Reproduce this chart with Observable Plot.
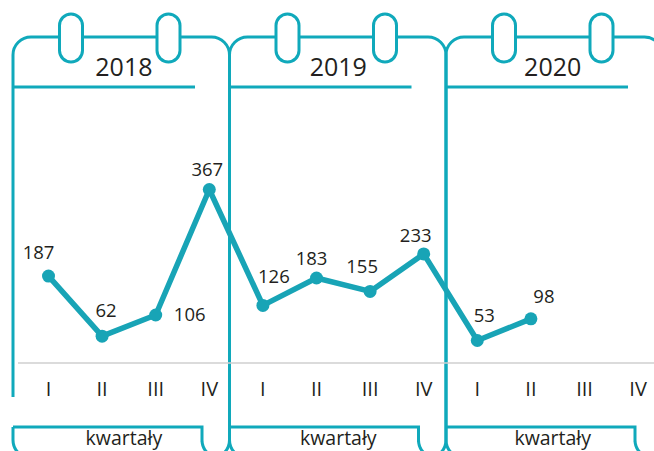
<!DOCTYPE html>
<html>
<head>
<meta charset="utf-8">
<script src="https://cdn.jsdelivr.net/npm/d3@7"></script>
<script src="https://cdn.jsdelivr.net/npm/@observablehq/plot@0.6"></script>
<style>
  html, body { margin: 0; padding: 0; background: #fff; }
  #chart svg { display: block; }
</style>
</head>
<body>
<div id="chart"></div>
<script>
// ---- data ----
const years = ["2018", "2019", "2020"];
const quarters = ["I", "II", "III", "IV"];
const values = [187, 62, 106, 367, 126, 183, 155, 233, 53, 98];
const axisLabel = "kwartały";

// ---- layout ----
const W = 654, H = 451;
const teal = "#10a9bb";
const lineColor = "#18a4b6";
const ink = "#231f20";
const font = "'Open Sans', sans-serif";

const data = values.map((v, i) => ({ i, value: v, label: String(v) }));
const yearData = years.map((y, j) => ({ year: y, c: j * 4 + 1.5 }));
const labelOffsets = [[-10,-23],[4,-25],[34,0],[-2,-19],[11,-28],[-5,-19],[-8,-24],[-8,-18],[7,-24],[13,-22]];

const nQ = years.length * quarters.length;

const chart = Plot.plot({
  width: W,
  height: H,
  marginLeft: 18,
  marginRight: 0,
  marginTop: 0,
  marginBottom: 76,
  style: { fontFamily: font, background: "transparent", color: ink },
  x: { type: "linear", domain: [0, nQ - 1], range: [48, 637.6] },
  y: { domain: [0, 400], range: [365.5, 365.5 - 0.481 * 400] },
  marks: [
    Plot.ruleY([0], { stroke: "#cfcfcf", strokeWidth: 1.5, dy: -3 }),
    Plot.axisX(d3.range(nQ), {
      tickFormat: i => quarters[i % quarters.length],
      tickSize: 0, tickPadding: 6, fontSize: 20, color: ink, label: null
    }),
    Plot.axisY({ ticks: [], label: null, tickSize: 0 }),
    Plot.line(data, { x: "i", y: "value", stroke: lineColor, strokeWidth: 5.5, strokeLinejoin: "round", strokeLinecap: "round" }),
    Plot.dot(data, { x: "i", y: "value", r: 6.5, fill: lineColor, stroke: null }),
    ...data.map((d, k) => Plot.text([d], {
      x: "i", y: "value", text: "label",
      dx: labelOffsets[k][0], dy: labelOffsets[k][1],
      fontSize: 18.5, fill: ink
    })),
    Plot.text(yearData, { x: "c", frameAnchor: "top", dy: 67, dx: -5, text: "year", fontSize: 25, fill: ink, lineAnchor: "middle" }),
    Plot.text(yearData, { x: "c", frameAnchor: "top", dy: 438, dx: -5, text: () => axisLabel, fontSize: 19.5, fill: ink, lineAnchor: "middle" })
  ]
});

// ---- decorative calendar frames ----
const svg = d3.select(chart);
const g = svg.insert("g", ":first-child")
  .attr("fill", "none").attr("stroke", teal).attr("stroke-width", 3)
  .attr("stroke-linecap", "butt");

const PW = 216.5, T = 37, B = 458, r = 18;
years.forEach((y, j) => {
  const L = 13 + PW * j, R = L + PW;
  const p = d3.path();
  if (j === 0) {
    p.moveTo(L, 397);
  } else {
    p.moveTo(L, B - r);
  }
  p.lineTo(L, T + r);
  p.arcTo(L, T, L + r, T, r);
  p.lineTo(R - r, T);
  p.arcTo(R, T, R, T + r, r);
  p.lineTo(R, B - r);
  p.arcTo(R, B, R - r, B, r);
  p.lineTo(L + r, B);
  p.arcTo(L, B, L, B - r, r);
  if (j === 0) p.lineTo(L, 427);
  g.append("path").attr("d", p.toString());

  // header underline
  g.append("line").attr("x1", L).attr("x2", L + 182).attr("y1", 87).attr("y2", 87);

  // bottom tab
  const tx = L + 189;
  const q = d3.path();
  q.moveTo(L, 427);
  q.lineTo(tx, 427);
  q.lineTo(tx, B - r + 2);
  q.arcTo(tx, B, tx + r, B, r);
  g.append("path").attr("d", q.toString());

  // rings
  [58, 155.5].forEach(o => {
    g.append("rect")
      .attr("x", L + o - 11.5).attr("y", 14)
      .attr("width", 23).attr("height", 48)
      .attr("rx", 11.5).attr("ry", 11.5)
      .attr("fill", "#fff");
  });
});

document.getElementById("chart").appendChild(chart);
</script>
</body>
</html>
